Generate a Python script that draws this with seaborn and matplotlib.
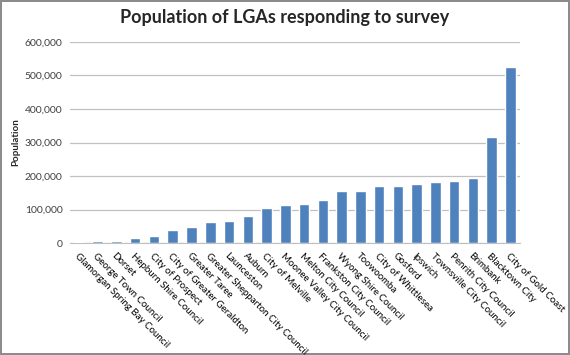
import numpy as np
import matplotlib
matplotlib.use('Agg')
import matplotlib.pyplot as plt
import seaborn as sns

# LGA names and populations
lgas = ['Glamorgan Spring Bay Council', 'George Town Council', 'Dorset',
        'Hepburn Shire Council', 'City of Prospect', 'City of Greater Geraldton',
        'Greater Taree', 'Greater Shepparton City Council', 'Launceston', 'Auburn',
        'City of Melville', 'Moonee Valley City Council', 'Melton City Council',
        'Frankston City Council', 'Wyong Shire Council', 'Toowoomba',
        'City of Whittlesea', 'Gosford', 'Ipswich', 'Townsville City Council',
        'Penrith City Council', 'Brimbank', 'Blacktown City', 'City of Gold Coast']
population = [4500, 6000, 7500, 14000, 20000, 38000, 48000, 62000, 67000, 81000,
              104000, 113000, 118000, 130000, 156000, 157000, 169000, 169000,
              176000, 183000, 186000, 193000, 316000, 525000]
yticks = [0, 100000, 200000, 300000, 400000, 500000, 600000]

sns.set_style('white')
plt.rcParams['font.family'] = ['Lato', 'DejaVu Sans']

fig = plt.figure(figsize=(5.7, 3.55), dpi=100)
fig.patch.set_edgecolor('#8c8c8c')
fig.patch.set_linewidth(1.5)
ax = fig.add_axes([0.122, 0.315, 0.79, 0.567])

sns.barplot(x=lgas, y=population, color='#4F81BD', width=0.56,
            saturation=1, ax=ax, zorder=3)

ax.set_ylim(0, 600000)
ax.set_yticks(yticks)
ax.set_yticklabels([f'{v:,}' for v in yticks], fontsize=7.5, color='#404040')
ax.yaxis.grid(True, color='#c0c0c0', linewidth=0.9, zorder=0)
ax.set_axisbelow(True)
for s in ['top', 'right', 'left']:
    ax.spines[s].set_visible(False)
ax.spines['bottom'].set_color('#c0c0c0')
ax.tick_params(axis='y', length=0, pad=5)
ax.tick_params(axis='x', length=0, pad=6)
ax.set_xlim(-0.5, len(lgas) - 0.5)

ax.set_xticks(range(len(lgas)))
ax.set_xticklabels(lgas, rotation=-45, ha='left', rotation_mode='anchor',
                   fontsize=7, color='#000000')

ax.set_ylabel('Population', fontsize=7, fontweight='bold', labelpad=3)
fig.suptitle('Population of LGAs responding to survey', fontsize=13,
             fontweight='bold', y=0.975)

fig.savefig('out.png', dpi=100)
